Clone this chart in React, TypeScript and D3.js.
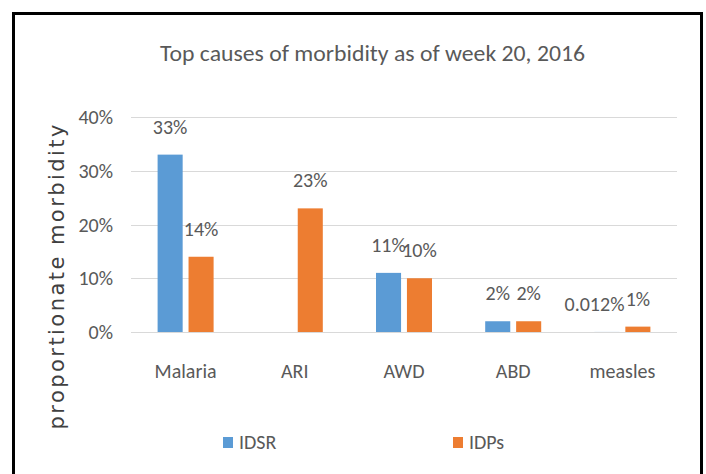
import { useEffect, useRef } from "react";
import * as d3 from "d3";

// Dados do gráfico
const categorias = ["Malaria", "ARI", "AWD", "ABD", "measles"];
const series = ["IDSR", "IDPs"];
const valoresIDSR = [0.33, 0, 0.11, 0.02, 0.00012];
const valoresIDPs = [0.14, 0.23, 0.1, 0.02, 0.01];
const ticksY = [0, 0.1, 0.2, 0.3, 0.4];

const CORES: Record<string, string> = {
  IDSR: "#5B9BD5",
  IDPs: "#ED7D31"
};

const FONTE = "Calibri, Carlito, 'Liberation Sans Narrow', 'DejaVu Sans Condensed', 'Open Sans', sans-serif";
const CINZA = "#595959";

const formatLabel = (v: number) => (v < 0.001 ? d3.format(".3%")(v) : d3.format(".0%")(v));

const App = () => {
  const svgRef = useRef<SVGSVGElement>(null);

  useEffect(() => {
    if (!svgRef.current) return;
    const width = 706;
    const height = 474;

    const svg = d3.select(svgRef.current);
    svg.selectAll("*").remove();

    svg.append("rect").attr("width", width).attr("height", height).attr("fill", "#fff");

    // Moldura preta
    svg
      .append("rect")
      .attr("x", 13.5)
      .attr("y", 13.5)
      .attr("width", 688)
      .attr("height", 480)
      .attr("fill", "none")
      .attr("stroke", "#000")
      .attr("stroke-width", 3);

    // Escalas
    const x0 = d3.scaleBand().domain(categorias).range([131, 677]).padding(0);
    const x1 = d3.scaleBand().domain(series).range([-28, 28]).paddingInner(0.19);
    const y = d3.scaleLinear().domain([0, 0.4]).range([332, 117]);

    // Título
    svg
      .append("text")
      .attr("x", 372.5)
      .attr("y", 61)
      .attr("text-anchor", "middle")
      .attr("textLength", 425)
      .attr("lengthAdjust", "spacingAndGlyphs")
      .style("font-family", FONTE)
      .style("font-size", "23px")
      .attr("fill", CINZA)
      .text("Top causes of morbidity as of week 20, 2016");

    // Grid
    svg
      .append("g")
      .selectAll("line")
      .data(ticksY)
      .enter()
      .append("line")
      .attr("x1", 131)
      .attr("x2", 677)
      .attr("y1", (d) => Math.round(y(d)) + 0.5)
      .attr("y2", (d) => Math.round(y(d)) + 0.5)
      .attr("stroke", "#d9d9d9")
      .attr("stroke-width", 1);

    // Rótulos do eixo Y
    svg
      .append("g")
      .selectAll("text")
      .data(ticksY)
      .enter()
      .append("text")
      .attr("x", 113)
      .attr("y", (d) => y(d))
      .attr("dy", "0.35em")
      .attr("text-anchor", "end")
      .style("font-family", FONTE)
      .style("font-size", "20px")
      .attr("fill", CINZA)
      .text((d) => d3.format(".0%")(d));

    // Título do eixo Y
    svg
      .append("text")
      .attr("transform", "translate(64,277) rotate(-90)")
      .attr("text-anchor", "middle")
      .attr("textLength", 305)
      .attr("lengthAdjust", "spacing")
      .style("font-family", "'DejaVu Sans', Verdana, sans-serif")
      .style("font-size", "21px")
      .attr("fill", "#404040")
      .text("proportionate morbidity");

    // Rótulos do eixo X
    svg
      .append("g")
      .selectAll("text")
      .data(categorias)
      .enter()
      .append("text")
      .attr("x", (d) => (x0(d) ?? 0) + x0.bandwidth() / 2)
      .attr("y", 378)
      .attr("text-anchor", "middle")
      .style("font-family", FONTE)
      .style("font-size", "20px")
      .attr("fill", CINZA)
      .text((d) => d);

    // Barras e rótulos
    const valoresPorSerie: Record<string, number[]> = { IDSR: valoresIDSR, IDPs: valoresIDPs };
    series.forEach((s) => {
      const dados = categorias.map((c, i) => ({ cat: c, v: valoresPorSerie[s][i] }));
      const xc = (c: string) => (x0(c) ?? 0) + x0.bandwidth() / 2 + (x1(s) ?? 0);

      svg
        .append("g")
        .selectAll("rect")
        .data(dados.filter((d) => d.v > 0))
        .enter()
        .append("rect")
        .attr("x", (d) => xc(d.cat))
        .attr("y", (d) => y(d.v))
        .attr("width", x1.bandwidth())
        .attr("height", (d) => y(0) - y(d.v))
        .attr("fill", CORES[s]);

      const labels = svg
        .append("g")
        .selectAll("text")
        .data(dados.filter((d) => d.v > 0))
        .enter()
        .append("text")
        .attr("x", (d) => xc(d.cat) + x1.bandwidth() / 2)
        .attr("y", (d) => y(d.v) - 21)
        .attr("text-anchor", "middle")
        .style("font-family", FONTE)
        .style("font-size", "20px")
        .attr("fill", CINZA)
        .text((d) => formatLabel(d.v));

      // Rótulos longos: não passar muito da borda direita da barra
      labels.each(function (d) {
        const el = this as SVGTextElement;
        const w = el.getComputedTextLength();
        const centro = xc(d.cat) + x1.bandwidth() / 2;
        const limite = xc(d.cat) + x1.bandwidth() + 5;
        if (centro + w / 2 > limite) {
          d3.select(el).attr("x", limite - w / 2);
        }
      });
    });

    // Legenda
    const legendaX = [223, 453];
    series.forEach((s, i) => {
      const lg = svg.append("g").attr("transform", `translate(${legendaX[i]},437)`);
      lg.append("rect").attr("width", 10).attr("height", 11).attr("fill", CORES[s]);
      lg.append("text")
        .attr("x", 16)
        .attr("y", 12)
        .style("font-family", FONTE)
        .style("font-size", "20px")
        .attr("fill", CINZA)
        .text(s);
    });
  }, []);

  return (
    <svg
      ref={svgRef}
      width={706}
      height={474}
      style={{ position: "absolute", left: 0, top: 0, display: "block" }}
    />
  );
};

export default App;
